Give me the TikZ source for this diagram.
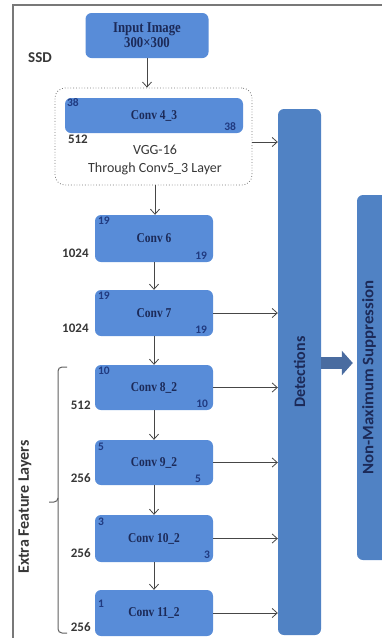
\documentclass[tikz,border=0pt]{standalone}
\usepackage{fontspec}
\setmainfont{Liberation Serif}
\newfontfamily\cvf[FakeStretch=0.85]{Liberation Serif}
\newfontfamily\sansf{Carlito}
\usetikzlibrary{arrows.meta}
\definecolor{convblue}{RGB}{88,140,216}
\definecolor{detblue}{RGB}{80,130,196}
\definecolor{navy}{RGB}{28,42,88}
\definecolor{numblue}{RGB}{32,58,128}
\definecolor{txtgray}{RGB}{55,55,55}
\definecolor{arrgray}{RGB}{70,70,70}
\definecolor{arrowblue}{RGB}{74,108,160}
\definecolor{framegray}{RGB}{120,120,120}
\begin{document}
\begin{tikzpicture}[x=1pt,y=-1pt,
  convbox/.style={fill=convblue, rounded corners=6pt, minimum width=118pt, inner sep=0pt,
    font=\cvf\bfseries\fontsize{13.5}{14}\selectfont, text=navy},
  detbox/.style={fill=detblue, rounded corners=6pt, inner sep=0pt},
  tlnum/.style={anchor=north west, inner sep=1pt, font=\sansf\bfseries\fontsize{11.5}{12}\selectfont, text=numblue},
  brnum/.style={anchor=south east, inner sep=1pt, font=\sansf\bfseries\fontsize{11.5}{12}\selectfont, text=numblue},
  lnum/.style={anchor=east, inner sep=1pt, font=\sansf\bfseries\fontsize{13}{14}\selectfont, text=txtgray},
  arr/.style={draw=arrgray, line width=0.8pt, -{Straight Barb[length=5pt,width=9pt]}},
  vtext/.style={rotate=90, font=\sansf\bfseries\fontsize{16}{18}\selectfont, text=navy}
]
\useasboundingbox (0,0) rectangle (382,638);
\clip (0,0) rectangle (382,638);
% frame
\draw[framegray, line width=1.2pt] (395,5) -- (13,5) -- (13,650);

% input
\node[convbox, minimum width=123pt, minimum height=45pt, align=center,
  font=\cvf\bfseries\fontsize{15}{15}\selectfont] (inp) at (147,35.5) {Input Image\\300×300};
\node[font=\sansf\bfseries\fontsize{15}{16}\selectfont, text=txtgray] (ssd) at (40,58) {SSD};

% VGG group
\node[draw=framegray, dotted, line width=0.8pt, fill=white, rounded corners=10pt,
  minimum width=197pt, minimum height=97pt] (vgg) at (153.5,136.5) {};
\node[convbox, minimum width=178pt, minimum height=35pt] (c43) at (154,115.5) {Conv 4\_3};
\node[align=center, font=\sansf\fontsize{14}{18}\selectfont, text=txtgray] (vggt) at (155,160) {VGG-16\\Through Conv5\_3 Layer};
\node[tlnum] (c43a) at ([xshift=1pt]c43.north west) {38};
\node[brnum] (c43b) at ([xshift=-6pt,yshift=1pt]c43.south east) {38};
\node[anchor=north west, inner sep=1pt, font=\sansf\bfseries\fontsize{13}{14}\selectfont, text=txtgray] (c43c) at ([xshift=2pt,yshift=-0.5pt]c43.south west) {512};

% conv boxes
\node[convbox, minimum height=47pt] (c6) at (154,238.5) {Conv 6};
\node[convbox, minimum height=46pt] (c7) at (154,313) {Conv 7};
\node[convbox, minimum height=45pt] (c8) at (154,387.5) {Conv 8\_2};
\node[convbox, minimum height=45pt] (c9) at (154,462.5) {Conv 9\_2};
\node[convbox, minimum height=47pt] (c10) at (154,538.5) {Conv 10\_2};
\node[convbox, minimum height=46pt] (c11) at (154,613) {Conv 11\_2};

\node[tlnum] (c6a) at ([xshift=2pt,yshift=-1pt]c6.north west) {19};
\node[brnum] (c6b) at ([xshift=-5pt,yshift=2pt]c6.south east) {19};
\node[lnum] (c6c) at ([xshift=-5pt,yshift=9pt]c6.south west) {1024};
\node[tlnum] (c7a) at ([xshift=2pt,yshift=-1pt]c7.north west) {19};
\node[brnum] (c7b) at ([xshift=-5pt,yshift=2pt]c7.south east) {19};
\node[lnum] (c7c) at ([xshift=-5pt,yshift=8pt]c7.south west) {1024};
\node[tlnum] (c8a) at ([xshift=2pt,yshift=-1pt]c8.north west) {10};
\node[brnum] (c8b) at ([xshift=-4pt,yshift=1pt]c8.south east) {10};
\node[lnum] (c8c) at ([xshift=-3pt,yshift=5pt]c8.south west) {512};
\node[tlnum] (c9a) at ([xshift=2pt,yshift=-2pt]c9.north west) {5};
\node[brnum] (c9b) at ([xshift=-11pt,yshift=1pt]c9.south east) {5};
\node[lnum] (c9c) at ([xshift=-3pt,yshift=7pt]c9.south west) {256};
\node[tlnum] (c10a) at ([xshift=2pt,yshift=-2pt]c10.north west) {3};
\node[brnum] (c10b) at ([xshift=-2pt,yshift=2pt]c10.south east) {3};
\node[lnum] (c10c) at ([xshift=-3pt,yshift=9pt]c10.south west) {256};
\node[tlnum] (c11a) at ([xshift=2pt,yshift=-9pt]c11.north west) {1};
\node[lnum] (c11c) at ([xshift=-3pt,yshift=9pt]c11.south west) {256};

% detections and NMS
\node[detbox, minimum width=43pt, minimum height=526pt] (det) at (299.5,372) {};
\node[vtext] (dett) at (det.center) {Detections};
\node[detbox, minimum width=35pt, minimum height=365pt] (nms) at (374.5,377.5) {};
\node[vtext] (nmst) at (369,377.5) {\scalebox{1.05}[1]{Non-Maximum Suppression}};

% vertical arrows
\draw[arr] (inp.south) -- (inp.south |- vgg.north);
\draw[arr] ([xshift=1.5pt]vgg.south) -- ([xshift=1.5pt]vgg.south |- c6.north);
\draw[arr] (c6) -- (c7);
\draw[arr] (c7) -- (c8);
\draw[arr] (c8) -- (c9);
\draw[arr] (c9) -- (c10);
\draw[arr] (c10) -- (c11);

% horizontal arrows
\coordinate (va) at ([yshift=-5.5pt]vgg.east);
\draw[arr] (va) -- (va -| det.west);
\draw[arr] (c7.east) -- (c7.east -| det.west);
\draw[arr] (c8.east) -- (c8.east -| det.west);
\draw[arr] (c9.east) -- (c9.east -| det.west);
\draw[arr] (c10.east) -- (c10.east -| det.west);
\draw[arr] (c11.east) -- (c11.east -| det.west);

% thick arrow
\coordinate (ta) at ([yshift=9pt]det.east);
\draw[draw=arrowblue, line width=12pt, -{Triangle[length=11pt,width=24pt]}] (ta) -- ([xshift=-4pt]ta -| nms.west);

% bracket
\draw[framegray!80!black, line width=1pt, rounded corners=4pt]
  (67,367) -| (58,502) -- (49,502);
\draw[framegray!80!black, line width=1pt, rounded corners=4pt]
  (58,498) |- (67,633);
\node[rotate=90, font=\sansf\bfseries\fontsize{16}{18}\selectfont, text=txtgray] (efl) at (25,507) {Extra Feature Layers};
\end{tikzpicture}
\end{document}
